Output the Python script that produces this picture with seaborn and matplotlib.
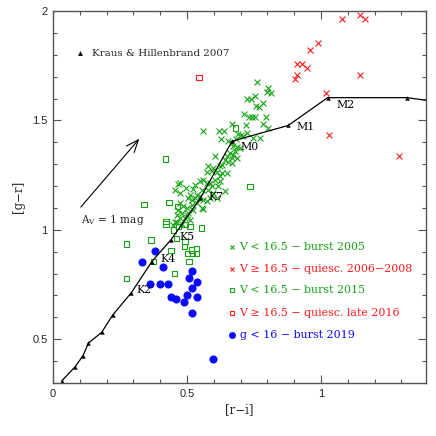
import matplotlib
matplotlib.use("Agg")
import matplotlib.pyplot as plt
import seaborn as sns
import pandas as pd
from matplotlib.ticker import MultipleLocator

# ---------------- data ----------------
kh07_ri = [0.032, 0.083, 0.112, 0.132, 0.182, 0.223, 0.292, 0.369, 0.440, 0.550, 0.668, 0.878, 1.025, 1.322, 1.48]
kh07_gr = [0.309, 0.375, 0.425, 0.482, 0.532, 0.611, 0.712, 0.855, 0.954, 1.145, 1.405, 1.477, 1.604, 1.604, 1.577]
kh07_labels = {6: "K2", 7: "K4", 8: "K5", 9: "K7", 10: "M0", 11: "M1", 12: "M2"}

burst2005_ri = [0.762, 0.803, 0.797, 0.812, 0.754, 0.738, 0.723, 0.757, 0.770, 0.782,
                0.713, 0.731, 0.741, 0.754, 0.794, 0.719, 0.785, 0.803, 0.559, 0.621,
                0.638, 0.667, 0.627, 0.692, 0.700, 0.710, 0.723, 0.747, 0.772, 0.683,
                0.654, 0.667, 0.673, 0.685, 0.698, 0.679, 0.660, 0.673, 0.648, 0.667,
                0.604, 0.685, 0.642, 0.654, 0.667, 0.630, 0.580, 0.598, 0.623, 0.630,
                0.648, 0.611, 0.573, 0.592, 0.623, 0.642, 0.573, 0.592, 0.623, 0.561,
                0.604, 0.549, 0.586, 0.530, 0.617, 0.474, 0.455, 0.496, 0.524, 0.555,
                0.580, 0.474, 0.511, 0.536, 0.549, 0.598, 0.530, 0.517, 0.505, 0.561,
                0.586, 0.611, 0.573, 0.555, 0.474, 0.486, 0.468, 0.499, 0.517, 0.536,
                0.462, 0.480, 0.505, 0.524, 0.474, 0.493, 0.462, 0.449, 0.480, 0.511,
                0.455, 0.499, 0.559, 0.468]
burst2005_gr = [1.676, 1.647, 1.632, 1.627, 1.611, 1.596, 1.596, 1.566, 1.563, 1.581,
                1.531, 1.515, 1.515, 1.515, 1.515, 1.478, 1.482, 1.466, 1.451, 1.451,
                1.451, 1.482, 1.417, 1.436, 1.433, 1.431, 1.444, 1.421, 1.421, 1.413,
                1.405, 1.398, 1.382, 1.378, 1.372, 1.359, 1.352, 1.344, 1.336, 1.329,
                1.339, 1.329, 1.321, 1.311, 1.306, 1.298, 1.290, 1.283, 1.290, 1.260,
                1.260, 1.263, 1.214, 1.199, 1.222, 1.176, 1.265, 1.268, 1.245, 1.229,
                1.229, 1.222, 1.214, 1.206, 1.199, 1.214, 1.183, 1.191, 1.188, 1.183,
                1.183, 1.168, 1.161, 1.161, 1.153, 1.168, 1.145, 1.138, 1.145, 1.138,
                1.145, 1.145, 1.130, 1.102, 1.122, 1.107, 1.092, 1.100, 1.115, 1.122,
                1.069, 1.077, 1.077, 1.092, 1.054, 1.054, 1.038, 1.023, 1.026, 1.046,
                1.035, 1.069, 1.095, 1.210]

quiesc0608_ri = [1.078, 1.146, 1.164, 0.989, 0.960, 0.912, 0.930, 0.949, 0.910, 0.902,
                 1.146, 1.019, 1.029, 1.292]
quiesc0608_gr = [1.963, 1.982, 1.963, 1.852, 1.820, 1.757, 1.757, 1.739, 1.706, 1.691,
                 1.706, 1.627, 1.434, 1.338]

burst2015_ri = [0.420, 0.340, 0.433, 0.464, 0.682, 0.735, 0.422, 0.422, 0.449, 0.468,
                0.493, 0.511, 0.555, 0.366, 0.462, 0.493, 0.490, 0.440, 0.517, 0.536,
                0.503, 0.520, 0.536, 0.508, 0.374, 0.453, 0.274, 0.274]
burst2015_gr = [1.324, 1.116, 1.126, 1.107, 1.465, 1.199, 1.039, 1.027, 1.000, 1.015,
                1.024, 1.015, 1.009, 0.953, 0.959, 0.946, 0.923, 0.906, 0.908, 0.916,
                0.893, 0.893, 0.893, 0.855, 0.855, 0.801, 0.936, 0.777]

quiesc2016_ri = [0.545]
quiesc2016_gr = [1.697]

burst2019_ri = [0.331, 0.379, 0.410, 0.361, 0.400, 0.430, 0.519, 0.509, 0.539, 0.519,
                0.440, 0.459, 0.489, 0.499, 0.539, 0.519, 0.598]
burst2019_gr = [0.853, 0.902, 0.832, 0.752, 0.752, 0.752, 0.812, 0.781, 0.763, 0.733,
                0.691, 0.682, 0.671, 0.702, 0.691, 0.621, 0.410]

legend_labels = ["V < 16.5 \u2212 burst 2005",
                 "V \u2265 16.5 \u2212 quiesc. 2006\u22122008",
                 "V < 16.5 \u2212 burst 2015",
                 "V \u2265 16.5 \u2212 quiesc. late 2016",
                 "g < 16 \u2212 burst 2019"]
reference_label = "Kraus & Hillenbrand 2007"
extinction_label = "A$_V$ = 1 mag"

GREEN = "#16a316"
RED = "#ff1a1a"
BLUE = "#0a0aff"

# ---------------- style ----------------
sns.set_theme(style="ticks")
plt.rcParams["font.family"] = ["DejaVu Serif"]
plt.rcParams["mathtext.default"] = "regular"
plt.rcParams["font.size"] = 8

fig = plt.figure(figsize=(4.36, 4.36), dpi=100)
ax = fig.add_axes([53 / 436, 53 / 436, 373 / 436, 372 / 436])

# KH07 sequence
sns.lineplot(x=kh07_ri, y=kh07_gr, sort=False, ax=ax, color="black", lw=0.9,
             marker="^", markersize=3.2, markeredgewidth=0, estimator=None)
offsets = {"K2": (3.9, 2.0), "K4": (6.0, 1.5), "K5": (6.3, 2.2), "K7": (5.8, 1.0),
           "M0": (6.2, -4.0), "M1": (6.0, -1.4), "M2": (6.0, -5.5)}
for i, lab in kh07_labels.items():
    ax.annotate(lab, (kh07_ri[i], kh07_gr[i]), xytext=offsets[lab],
                textcoords="offset points", ha="left", va="center",
                fontsize=7.8, color="black")

# data sets
sns.scatterplot(x=burst2005_ri, y=burst2005_gr, ax=ax, marker="x", color=GREEN,
                s=18, linewidth=0.8)
sns.scatterplot(x=quiesc0608_ri, y=quiesc0608_gr, ax=ax, marker="x", color=RED,
                s=18, linewidth=0.8)
sns.scatterplot(x=burst2015_ri, y=burst2015_gr, ax=ax, marker="s", facecolor="none",
                edgecolor=GREEN, s=15, linewidth=0.8)
sns.scatterplot(x=quiesc2016_ri, y=quiesc2016_gr, ax=ax, marker="s", facecolor="none",
                edgecolor=RED, s=15, linewidth=0.8)
sns.scatterplot(x=burst2019_ri, y=burst2019_gr, ax=ax, marker="o", color=BLUE,
                s=34, linewidth=0)

# extinction arrow
ax.annotate("", xy=(0.322, 1.416), xytext=(0.104, 1.104),
            arrowprops=dict(arrowstyle="->,head_length=1.1,head_width=0.45",
                            color="black", lw=0.8, shrinkA=0, shrinkB=0))
ax.text(0.104, 1.046, extinction_label, ha="left", va="center", fontsize=7.6)

# KH07 key
ax.plot([0.072], [0.887], marker="^", color="black", markersize=3.5,
        markeredgewidth=0, transform=ax.transAxes, linestyle="none")
ax.text(0.105, 0.887, reference_label, transform=ax.transAxes, ha="left",
        va="center", fontsize=7.4)

# custom legend
leg_styles = [("x", GREEN, 3.4), ("x", RED, 3.4), ("s", GREEN, 3.4),
              ("s", RED, 3.4), ("o", BLUE, 5.0)]
leg_y = [0.366, 0.307, 0.250, 0.189, 0.130]
for (mk, col, ms), yy, lab in zip(leg_styles, leg_y, legend_labels):
    if mk == "s":
        ax.plot([0.48], [yy], marker=mk, markerfacecolor="none", markeredgecolor=col,
                markersize=ms, markeredgewidth=0.8, transform=ax.transAxes, linestyle="none")
    else:
        ax.plot([0.48], [yy], marker=mk, color=col, markersize=ms,
                markeredgewidth=0.8 if mk == "x" else 0, transform=ax.transAxes,
                linestyle="none")
    ax.text(0.50, yy, lab, transform=ax.transAxes, color=col, ha="left",
            va="center", fontsize=7.9)

# axes
ax.set_xlim(0, 1.392)
ax.set_ylim(0.3, 2.0)
ax.xaxis.set_minor_locator(MultipleLocator(0.1))
ax.yaxis.set_minor_locator(MultipleLocator(0.1))
ax.set_xticks([0, 0.5, 1])
ax.set_xticklabels(["0", "0.5", "1"])
ax.set_yticks([0.5, 1, 1.5, 2])
ax.set_yticklabels(["0.5", "1", "1.5", "2"])
for lbl in ax.get_xticklabels() + ax.get_yticklabels():
    lbl.set_fontfamily(["Liberation Sans", "DejaVu Sans"])
ax.tick_params(which="both", direction="in", top=True, right=True, color="#555555",
               labelsize=8, pad=4)
ax.tick_params(which="major", length=6, width=0.8)
ax.tick_params(which="minor", length=3.2, width=0.8)
for sp in ax.spines.values():
    sp.set_linewidth(1.0)
    sp.set_color("#555555")
ax.set_xlabel("[r\u2212i]", fontsize=8.5, labelpad=3)
ax.set_ylabel("[g\u2212r]", fontsize=8.5, labelpad=5)

fig.savefig("out.png", dpi=100)
